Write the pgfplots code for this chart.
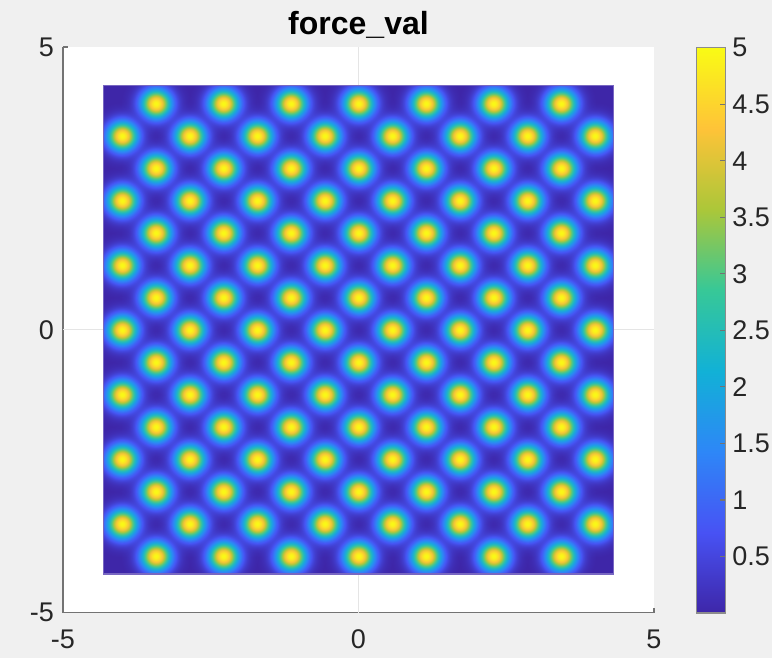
\documentclass[border=0pt]{standalone}
\usepackage{fontspec}
\setmainfont{Liberation Sans}
\usepackage{pgfplots}
\pgfplotsset{compat=1.18}
\usetikzlibrary{fadings,shapes.geometric}

\definecolor{figbg}{RGB}{240,240,240}
\definecolor{axcol}{RGB}{38,38,38}
% parula stops at 0, 1/7, ..., 1
\definecolor{P0}{rgb}{0.2422,0.1504,0.6603}
\definecolor{P1}{rgb}{0.2810,0.3228,0.9579}
\definecolor{P2}{rgb}{0.1786,0.5289,0.9682}
\definecolor{P3}{rgb}{0.0689,0.6948,0.8394}
\definecolor{P4}{rgb}{0.2161,0.7843,0.5923}
\definecolor{P5}{rgb}{0.6720,0.7793,0.2227}
\definecolor{P6}{rgb}{0.9970,0.7659,0.2199}
\definecolor{P7}{rgb}{0.9769,0.9839,0.0805}
\colorlet{Ptail}{P2!5!P1}

\pgfplotsset{
  colormap={parula}{
    rgb=(0.2422,0.1504,0.6603)
    rgb=(0.2810,0.3228,0.9579)
    rgb=(0.1786,0.5289,0.9682)
    rgb=(0.0689,0.6948,0.8394)
    rgb=(0.2161,0.7843,0.5923)
    rgb=(0.6720,0.7793,0.2227)
    rgb=(0.9970,0.7659,0.2199)
    rgb=(0.9769,0.9839,0.0805)
  },
  /pgf/number format/assume math mode=true,
}

% radial profile of one peak (opaque core, fading tail); 25bp = node border
\pgfdeclareradialshading{blobshade}{\pgfpointorigin}{%
  color(0bp)=(P7);
  color(1.47bp)=(P7!86!P6);
  color(2.94bp)=(P7!46!P6);
  color(4.41bp)=(P6!85!P5);
  color(5.88bp)=(P6!8!P5);
  color(7.35bp)=(P5!25!P4);
  color(8.82bp)=(P4!41!P3);
  color(10.29bp)=(P3!63!P2);
  color(11.76bp)=(P2!95!P1);
  color(13.24bp)=(P2!39!P1);
  color(14.34bp)=(Ptail);
  color(50bp)=(Ptail)}
\pgfdeclareradialshading{blobalpha}{\pgfpointorigin}{%
  color(0bp)=(pgftransparent!0);
  color(14.34bp)=(pgftransparent!0);
  color(15.44bp)=(pgftransparent!26.5);
  color(16.91bp)=(pgftransparent!52.7);
  color(18.38bp)=(pgftransparent!70.7);
  color(19.85bp)=(pgftransparent!82.6);
  color(21.32bp)=(pgftransparent!90);
  color(22.79bp)=(pgftransparent!94.5);
  color(25bp)=(pgftransparent!100);
  color(50bp)=(pgftransparent!100)}
\pgfdeclarefading{blobfade}{\pgfuseshading{blobalpha}}

\begin{document}
\begin{tikzpicture}
\fill[figbg] (0,0) rectangle (386pt,329pt);

\begin{axis}[
  name=outer,
  at={(31.5pt,22.65pt)}, anchor=south west,
  scale only axis, width=295.5pt, height=282.85pt,
  xmin=-5, xmax=5, ymin=-5, ymax=5,
  axis x line=bottom, axis y line=left,
  axis line style={-, draw=black!55, line width=0.6pt},
  axis background/.style={fill=white},
  xtick={-5,0,5}, ytick={-5,0,5},
  tick align=inside, major tick length=2.5pt,
  tick style={draw=black!55, line width=0.6pt},
  extra x ticks={0}, extra x tick labels={},
  extra x tick style={grid=major, major tick length=0pt},
  extra y ticks={0}, extra y tick labels={},
  extra y tick style={grid=major, major tick length=0pt},
  grid style={draw=black!10, line width=0.5pt},
  tick label style={font=\fontsize{13.5}{16}\selectfont, text=axcol},
  xticklabel style={yshift=-5pt},
  yticklabel style={xshift=-1pt},
  title={force\_val},
  every axis title/.style={at={(0.5,1)}, anchor=base, yshift=6.35pt,
    font=\bfseries\fontsize{16}{19}\selectfont, text=black},
  colormap name=parula,
  colorbar,
  point meta min=0, point meta max=5,
  colorbar shift/.style={xshift=21.35pt},
  colorbar style={
    at={(parent axis.north east)}, anchor=north west,
    yshift=-0.35pt,
    scale only axis, width=14.3pt, height=282.65pt,
    ytick={0.5,1,1.5,2,2.5,3,3.5,4,4.5,5},
    ytick pos=right, yticklabel pos=right,
    tick align=inside, major tick length=2.5pt,
    axis line style={draw=black!45, line width=0.6pt},
    tick style={draw=black!55, line width=0.6pt},
    yticklabel style={font=\fontsize{13.5}{16}\selectfont, text=axcol},
  },
]
\end{axis}

\begin{axis}[
  at={(51.59pt,41.88pt)}, anchor=south west,
  scale only axis, width=255.31pt, height=244.38pt,
  xmin=-4.32, xmax=4.32, ymin=-4.32, ymax=4.32,
  hide axis, clip marker paths=true,
]
% field background
\addplot[fill=P0, draw=none] coordinates
  {(-4.32,-4.32) (4.32,-4.32) (4.32,4.32) (-4.32,4.32)};
% peaks of force_val (value 5 at each lattice site)
\addplot[draw=none, mark=none, nodes near coords={},
  every node near coord/.style={anchor=center, ellipse, inner sep=0pt,
    minimum width=35.4pt, minimum height=34pt,
    shade, shading=blobshade, path fading=blobfade}] coordinates {
  (-3.4286,4) (-2.2857,4) (-1.1429,4) (0,4) (1.1429,4) (2.2857,4) (3.4286,4)
  (-4,3.4286) (-2.8571,3.4286) (-1.7143,3.4286) (-0.5714,3.4286) (0.5714,3.4286) (1.7143,3.4286) (2.8571,3.4286) (4,3.4286)
  (-3.4286,2.8571) (-2.2857,2.8571) (-1.1429,2.8571) (0,2.8571) (1.1429,2.8571) (2.2857,2.8571) (3.4286,2.8571)
  (-4,2.2857) (-2.8571,2.2857) (-1.7143,2.2857) (-0.5714,2.2857) (0.5714,2.2857) (1.7143,2.2857) (2.8571,2.2857) (4,2.2857)
  (-3.4286,1.7143) (-2.2857,1.7143) (-1.1429,1.7143) (0,1.7143) (1.1429,1.7143) (2.2857,1.7143) (3.4286,1.7143)
  (-4,1.1429) (-2.8571,1.1429) (-1.7143,1.1429) (-0.5714,1.1429) (0.5714,1.1429) (1.7143,1.1429) (2.8571,1.1429) (4,1.1429)
  (-3.4286,0.5714) (-2.2857,0.5714) (-1.1429,0.5714) (0,0.5714) (1.1429,0.5714) (2.2857,0.5714) (3.4286,0.5714)
  (-4,0) (-2.8571,0) (-1.7143,0) (-0.5714,0) (0.5714,0) (1.7143,0) (2.8571,0) (4,0)
  (-3.4286,-0.5714) (-2.2857,-0.5714) (-1.1429,-0.5714) (0,-0.5714) (1.1429,-0.5714) (2.2857,-0.5714) (3.4286,-0.5714)
  (-4,-1.1429) (-2.8571,-1.1429) (-1.7143,-1.1429) (-0.5714,-1.1429) (0.5714,-1.1429) (1.7143,-1.1429) (2.8571,-1.1429) (4,-1.1429)
  (-3.4286,-1.7143) (-2.2857,-1.7143) (-1.1429,-1.7143) (0,-1.7143) (1.1429,-1.7143) (2.2857,-1.7143) (3.4286,-1.7143)
  (-4,-2.2857) (-2.8571,-2.2857) (-1.7143,-2.2857) (-0.5714,-2.2857) (0.5714,-2.2857) (1.7143,-2.2857) (2.8571,-2.2857) (4,-2.2857)
  (-3.4286,-2.8571) (-2.2857,-2.8571) (-1.1429,-2.8571) (0,-2.8571) (1.1429,-2.8571) (2.2857,-2.8571) (3.4286,-2.8571)
  (-4,-3.4286) (-2.8571,-3.4286) (-1.7143,-3.4286) (-0.5714,-3.4286) (0.5714,-3.4286) (1.7143,-3.4286) (2.8571,-3.4286) (4,-3.4286)
  (-3.4286,-4) (-2.2857,-4) (-1.1429,-4) (0,-4) (1.1429,-4) (2.2857,-4) (3.4286,-4)
};
% thin rim of the field
\addplot[draw=P0!70!white, line width=0.8pt] coordinates
  {(-4.32,-4.32) (4.32,-4.32) (4.32,4.32) (-4.32,4.32) (-4.32,-4.32)};
\end{axis}

\pgfresetboundingbox
\path[use as bounding box] (0,0) rectangle (386pt,329pt);
\end{tikzpicture}
\end{document}
